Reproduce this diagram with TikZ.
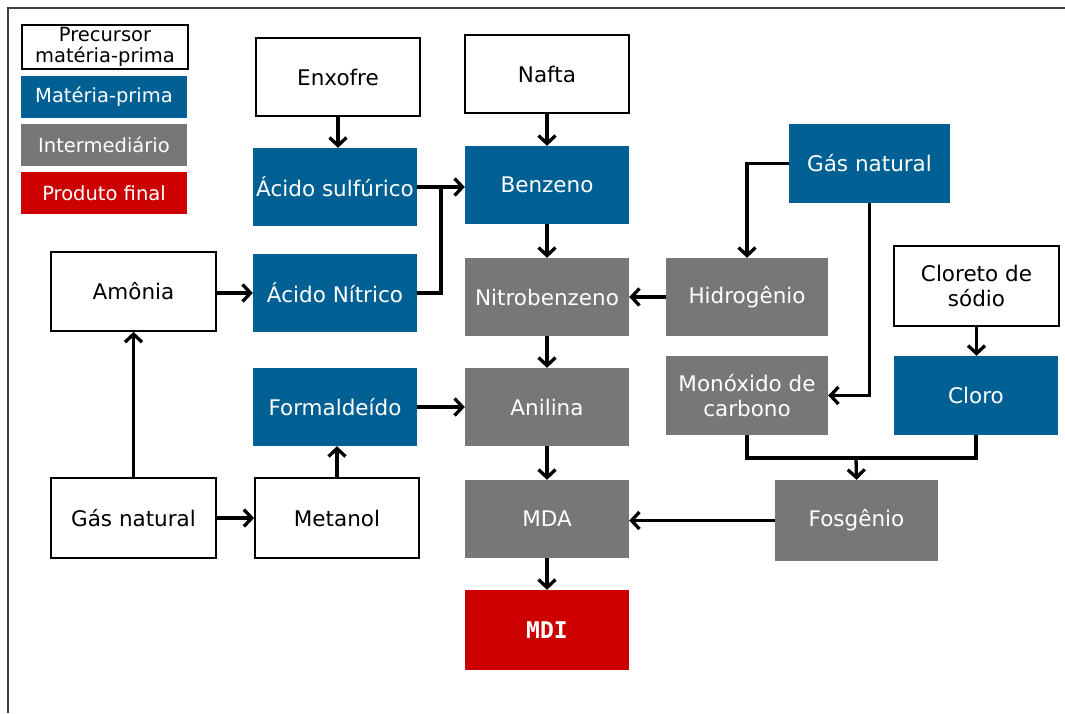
\documentclass[tikz,border=0pt]{standalone}
\usepackage{fontspec}
\setmainfont{DejaVu Sans}
\newfontfamily\mdifont{DejaVu Sans Mono}
\usetikzlibrary{arrows.meta,calc}
\definecolor{rawblue}{HTML}{006094}
\definecolor{midgray}{HTML}{777777}
\definecolor{finalred}{HTML}{CC0000}
\tikzset{
  base/.style={rectangle, inner sep=0pt, align=center, font=\fontsize{21.5}{25}\selectfont},
  wbox/.style={base, draw=black, line width=1.8pt, fill=white, text=black},
  bbox/.style={base, fill=rawblue, text=white},
  gbox/.style={base, fill=midgray, text=white},
  rbox/.style={base, fill=finalred, text=white},
  legend/.style={font=\fontsize{19.5}{21}\selectfont, minimum width=166pt, minimum height=42pt},
  conn/.style={line width=3.3pt, black},
  arr/.style={conn, -{Straight Barb[length=8pt,width=17pt,line width=3.3pt]}},
}
\begin{document}
\begin{tikzpicture}[x=1pt,y=-1pt]
\useasboundingbox (0,0) rectangle (1065,713);
\draw[line width=2.6pt, black!75] (1065,8) -- (8,8) -- (8,713);
% legend
\node[wbox, legend, minimum height=44pt, font=\fontsize{19.5}{21}\selectfont] (lp) at (105,47) {Precursor\\matéria-prima};
\node[bbox, legend] (lb) at (104,97) {Matéria-prima};
\node[gbox, legend] (lg) at (104,145) {Intermediário};
\node[rbox, legend] (lr) at (104,193) {Produto final};
% nodes
\node[wbox, minimum width=164pt, minimum height=78pt] (enx) at (338,77) {Enxofre};
\node[wbox, minimum width=164pt, minimum height=78pt] (naf) at (547,74) {Nafta};
\node[bbox, minimum width=164pt, minimum height=78pt] (acs) at (335,187) {Ácido sulfúrico};
\node[bbox, minimum width=164pt, minimum height=78pt] (benz) at (547,185) {Benzeno};
\node[bbox, minimum width=161pt, minimum height=79pt] (gnb) at (869.5,163.5) {Gás natural};
\node[wbox, minimum width=165pt, minimum height=79pt] (amo) at (133.5,291.5) {Amônia};
\node[bbox, minimum width=164pt, minimum height=78pt] (acn) at (335,293) {Ácido Nítrico};
\node[gbox, minimum width=164pt, minimum height=78pt] (nit) at (547,297) {Nitrobenzeno};
\node[gbox, minimum width=162pt, minimum height=78pt] (hid) at (747,297) {Hidrogênio};
\node[wbox, minimum width=165pt, minimum height=80pt] (cns) at (976.5,286) {Cloreto de\\sódio};
\node[gbox, minimum width=162pt, minimum height=79pt] (mon) at (747,395.5) {Monóxido de\\carbono};
\node[bbox, minimum width=164pt, minimum height=79pt] (clo) at (976,395.5) {Cloro};
\node[bbox, minimum width=164pt, minimum height=78pt] (form) at (335,407) {Formaldeído};
\node[gbox, minimum width=164pt, minimum height=78pt] (ani) at (547,407) {Anilina};
\node[wbox, minimum width=165pt, minimum height=80pt] (gnw) at (133.5,518) {Gás natural};
\node[wbox, minimum width=164pt, minimum height=80pt] (met) at (337,518) {Metanol};
\node[gbox, minimum width=164pt, minimum height=78pt] (mda) at (547,519) {MDA};
\node[gbox, minimum width=163pt, minimum height=81pt] (fos) at (856.5,520.5) {Fosgênio};
\node[rbox, minimum width=164pt, minimum height=80pt, font=\mdifont\bfseries\fontsize{23}{25}\selectfont] (mdi) at (547,630) {MDI};
% junctions
\coordinate (j1) at (441,187);
\coordinate (j2) at (856,458);
% connectors
\draw[arr] (enx.south -| 338,0) -- (acs.north -| 338,0);
\draw[arr] (naf) -- (benz);
\draw[arr] (acs.east) -- (acs.east -| benz.west);
\draw[conn] (acn.east) -| (j1);
\draw[arr] (amo.east |- acn.east) -- (acn.west);
\draw[arr] (gnw.north) -- (amo.south);
\draw[arr] (gnw.east) -- (met.west);
\draw[arr] (met.north) -- (met.north |- form.south);
\draw[arr] (form.east) -- (form.east -| ani.west);
\draw[arr] (benz) -- (nit);
\draw[arr] (nit) -- (ani);
\draw[arr] (ani) -- (mda);
\draw[arr] (mda) -- (mdi);
\draw[arr] (gnb.west) -| (hid.north);
\draw[arr] (gnb.south) |- (mon.east);
\draw[arr] (hid.west) -- (nit.east);
\draw[arr] (cns.south) -- (cns.south |- clo.north);
\draw[conn] (mon.south) |- (clo.south |- j2) -- (clo.south);
\draw[arr] (j2) -- (fos.north);
\draw[arr] (fos.west) -- (fos.west -| mda.east);
\end{tikzpicture}
\end{document}
